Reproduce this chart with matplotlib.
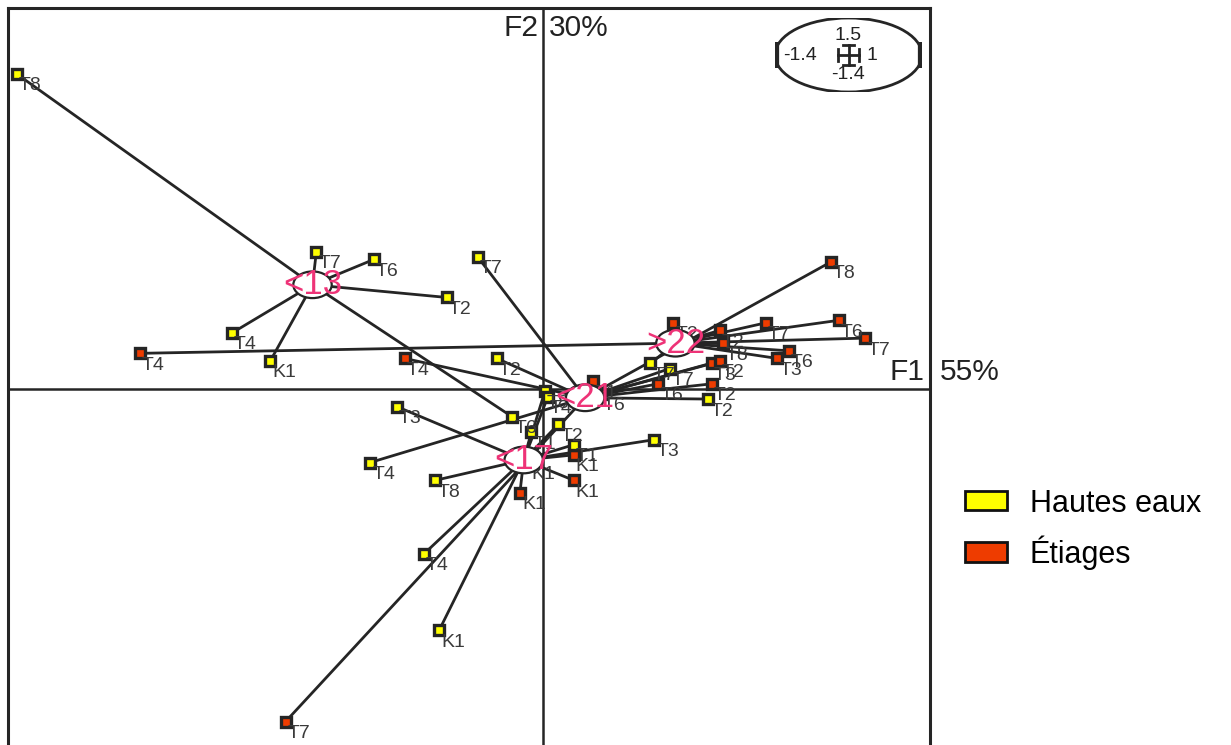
import matplotlib
matplotlib.use("Agg")
import matplotlib.pyplot as plt
from matplotlib.patches import Ellipse, Patch

plt.rcParams["font.family"] = ["Liberation Sans", "DejaVu Sans"]

# window of the factorial map (shown in the small box)
x_range = [-1.4, 1]
y_range = [-1.4, 1.5]
axis_titles = ["F1 55%", "F2 30%"]

# class centroids
class_names = ["<13", "<17", "<21", ">22"]
class_x = [-0.60, -0.05, 0.11, 0.345]
class_y = [0.41, -0.28, -0.035, 0.18]

# members of each class: label, x, y, season (H = hautes eaux, E = etiages)
lab13 = ["T8", "T7", "T6", "T2", "T4", "K1", "T6"]
x13 = [-1.37, -0.59, -0.44, -0.25, -0.81, -0.71, -0.08]
y13 = [1.24, 0.54, 0.51, 0.36, 0.22, 0.11, -0.11]
s13 = ["H", "H", "H", "H", "H", "H", "H"]

lab17 = ["T3", "T8", "T4", "K1", "K1", "K1", "K1", "T3", "T1", "T2", "T1", "T8", "T4", "K1"]
x17 = [-0.38, -0.28, -0.31, -0.27, -0.06, 0.08, 0.08, 0.29, -0.03, 0.04, 0.08, 0.005, 0.013, -0.035]
y17 = [-0.07, -0.36, -0.65, -0.95, -0.41, -0.36, -0.26, -0.20, -0.17, -0.14, -0.22, -0.01, -0.03, -0.29]
s17 = ["H", "H", "H", "H", "E", "E", "E", "H", "H", "H", "H", "H", "H", "E"]

lab21 = ["T7", "T2", "T4", "T7", "T4", "T8", "T1", "T6", "T6", "T2", "T2", "T7", "T3", "T2"]
x21 = [-0.17, -0.12, -0.36, -0.67, -0.45, 0.75, 0.13, 0.15, 0.30, 0.44, 0.43, 0.33, 0.44, 0.46]
y21 = [0.52, 0.12, 0.12, -1.31, -0.29, 0.50, 0.03, -0.02, 0.02, 0.02, -0.04, 0.08, 0.10, 0.11]
s21 = ["H", "H", "E", "E", "H", "E", "E", "E", "E", "E", "H", "H", "E", "E"]

lab22 = ["T4", "T6", "T7", "T7", "T2", "T8", "T6", "T3", "T2", "T7"]
x22 = [-1.05, 0.77, 0.84, 0.58, 0.46, 0.47, 0.64, 0.61, 0.34, 0.28]
y22 = [0.14, 0.27, 0.20, 0.26, 0.23, 0.18, 0.15, 0.12, 0.26, 0.10]
s22 = ["E", "E", "E", "E", "E", "E", "E", "E", "E", "H"]

season_names = ["Hautes eaux", "Étiages"]
season_colors = {"H": "#ffff00", "E": "#ee3c00"}

groups = [
    (lab13, x13, y13, s13),
    (lab17, x17, y17, s17),
    (lab21, x21, y21, s21),
    (lab22, x22, y22, s22),
]

dark = "#252525"
fig = plt.figure(figsize=(12.31, 7.45), dpi=100)
ax = fig.add_axes([8 / 1231, -7 / 745, 922 / 1231, 744 / 745])
ax.set_xlim(-1.393, 1.008)
ax.set_ylim(-1.43, 1.5)
ax.set_xticks([])
ax.set_yticks([])
for side in ["left", "top", "right"]:
    ax.spines[side].set_linewidth(2.2)
    ax.spines[side].set_color(dark)
ax.spines["bottom"].set_visible(False)

ax.axhline(0, color=dark, lw=1.8, zorder=1)
ax.axvline(0, color=dark, lw=1.8, zorder=1)

# star links
for (labs, xs, ys, ss), cx, cy in zip(groups, class_x, class_y):
    for x, y in zip(xs, ys):
        ax.plot([cx, x], [cy, y], color=dark, lw=2, zorder=2)

# points and labels
for labs, xs, ys, ss in groups:
    for lab, x, y, s in zip(labs, xs, ys, ss):
        ax.plot(x, y, marker="s", ms=6.5, mfc=season_colors[s], mec=dark,
                mew=2.4, zorder=3)
        ax.annotate(lab, (x, y), xytext=(1.5, -2.5), textcoords="offset points",
                    ha="left", va="top", fontsize=14, color="#3a3a3a", zorder=4)

# class centroids
for name, cx, cy in zip(class_names, class_x, class_y):
    ax.add_patch(Ellipse((cx, cy), 0.1, 0.105, facecolor="white",
                         edgecolor=dark, lw=1.6, zorder=5))
    ax.text(cx, cy, name, ha="center", va="center", fontsize=25,
            color="#ee3377", zorder=6)

# axis titles
ax.text(-0.012, 1.478, axis_titles[1].split()[0], ha="right", va="top",
        fontsize=21.5, color="#222222", clip_on=False)
ax.text(0.015, 1.478, axis_titles[1].split()[1], ha="left", va="top",
        fontsize=21.5, color="#222222", clip_on=False)
ax.text(0.993, 0.01, axis_titles[0].split()[0], ha="right", va="bottom",
        fontsize=21.5, color="#222222", clip_on=False)
ax.text(1.033, 0.01, axis_titles[0].split()[1], ha="left", va="bottom",
        fontsize=21.5, color="#222222", clip_on=False)

# scale box
box = fig.add_axes([775 / 1231, 1 - 92 / 745, 147 / 1231, 74 / 745])
box.set_xlim(0, 1)
box.set_ylim(0, 1)
box.axis("off")
box.add_patch(Ellipse((0.5, 0.5), 1, 1, facecolor="white", edgecolor=dark, lw=2))
box.plot([0.008, 0.008], [0.32, 0.68], color=dark, lw=4.5, solid_capstyle="butt")
box.plot([0.992, 0.992], [0.32, 0.68], color=dark, lw=4.5, solid_capstyle="butt")
box.plot([0.5, 0.5], [0.36, 0.64], color=dark, lw=2)
box.plot([0.43, 0.57], [0.5, 0.5], color=dark, lw=2)
for yy in [0.36, 0.64]:
    box.plot([0.46, 0.54], [yy, yy], color=dark, lw=2)
for xx in [0.43, 0.57]:
    box.plot([xx, xx], [0.42, 0.58], color=dark, lw=2)
box.text(0.5, 0.76, f"{y_range[1]}", ha="center", va="center", fontsize=14, color="#222222")
box.text(0.5, 0.23, f"{y_range[0]}", ha="center", va="center", fontsize=14, color="#222222")
box.text(0.17, 0.5, f"{x_range[0]}", ha="center", va="center", fontsize=14, color="#222222")
box.text(0.66, 0.5, f"{x_range[1]}", ha="center", va="center", fontsize=14, color="#222222")

# legend
handles = [Patch(facecolor=season_colors[k], edgecolor="#111111", lw=2)
           for k in ["H", "E"]]
fig.legend(handles, season_names, loc="upper left",
           bbox_to_anchor=(938 / 1231, 1 - 461 / 745), frameon=False,
           fontsize=22, handlelength=1.35, handleheight=0.6,
           labelspacing=0.55, handletextpad=0.75)

fig.savefig("out.png", dpi=100)
